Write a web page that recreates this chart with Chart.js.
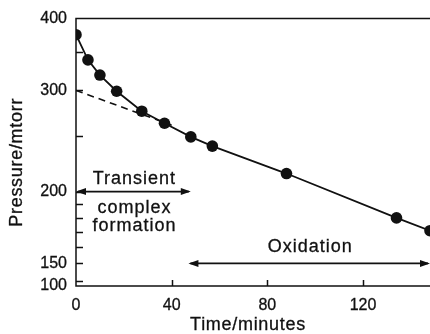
<!DOCTYPE html>
<html>
<head>
<meta charset="utf-8">
<script src="https://cdn.jsdelivr.net/npm/chart.js@4.4.1/dist/chart.umd.min.js"></script>
<style>
  html, body { margin: 0; padding: 0; background: #fff; }
  #wrap { width: 430px; height: 334px; position: relative; }
</style>
</head>
<body>
<div id="wrap"><canvas id="pressure"></canvas></div>
<script>
// measured pressure vs time
const times = [0, 5, 10, 17, 27.5, 37, 48, 57, 88, 134, 148];
const pressures = [375, 339, 319, 299, 276, 263, 249, 240, 215, 180, 171];

// straight-line part extrapolated back to t = 0
const extrapTimes = [0, 40];
const extrapPressures = [300, 261];

const xTicks = [0, 40, 80, 120];
const yTicks = [137, 140, 150, 160, 170, 180, 190, 200, 250, 300, 350, 400];
const yLabels = { 137: "100", 150: "150", 200: "200", 300: "300", 400: "400" };

// phase arrows: [start, end] in minutes, drawn at a pressure level
const transientSpan = [0, 48];
const transientLevel = 200;
const oxidationSpan = [47, 148];
const oxidationLevel = 150;

const INK = "#111";
const FONT = "'Liberation Sans', Arial, Helvetica, sans-serif";

Chart.defaults.font.family = FONT;
Chart.defaults.font.size = 16;
Chart.defaults.color = INK;

function arrow(ctx, x1, x2, y) {
  const head = 10, half = 3.5;
  ctx.beginPath();
  ctx.moveTo(x1 + 2, y);
  ctx.lineTo(x2 - 2, y);
  ctx.stroke();
  ctx.beginPath();
  ctx.moveTo(x1, y);
  ctx.lineTo(x1 + head, y - half);
  ctx.lineTo(x1 + head, y + half);
  ctx.closePath();
  ctx.moveTo(x2, y);
  ctx.lineTo(x2 - head, y - half);
  ctx.lineTo(x2 - head, y + half);
  ctx.closePath();
  ctx.fill();
}

function label(ctx, text, x, y) {
  ctx.fillText(text, x, y);
  ctx.strokeText(text, x, y);
}

const frameAndNotes = {
  id: "frameAndNotes",
  beforeDatasetsDraw(chart) {
    const { ctx, chartArea: a, scales: { x, y } } = chart;
    ctx.save();
    ctx.strokeStyle = INK;
    ctx.fillStyle = INK;
    ctx.lineWidth = 1.5;

    // left, bottom and top edges; the right side runs off the page
    ctx.beginPath();
    ctx.moveTo(a.right, a.top);
    ctx.lineTo(a.left, a.top);
    ctx.lineTo(a.left, a.bottom);
    ctx.lineTo(a.right, a.bottom);
    ctx.stroke();

    // tick marks point into the plot
    ctx.beginPath();
    y.ticks.forEach((t) => {
      if (t.value === y.min || t.value === y.max) return;
      const py = Math.round(y.getPixelForValue(t.value)) + 0.5;
      ctx.moveTo(a.left, py);
      ctx.lineTo(a.left + 7, py);
    });
    x.ticks.forEach((t) => {
      if (t.value === x.min) return;
      const px = Math.round(x.getPixelForValue(t.value)) + 0.5;
      ctx.moveTo(px, a.bottom);
      ctx.lineTo(px, a.bottom - 6);
    });
    ctx.stroke();

    // phase arrows and their labels
    ctx.lineWidth = 1.6;
    const ty = y.getPixelForValue(transientLevel);
    const tx1 = x.getPixelForValue(transientSpan[0]);
    const tx2 = x.getPixelForValue(transientSpan[1]);
    arrow(ctx, tx1, tx2, ty);
    const oy = y.getPixelForValue(oxidationLevel);
    const ox1 = x.getPixelForValue(oxidationSpan[0]);
    const ox2 = x.getPixelForValue(oxidationSpan[1]);
    arrow(ctx, ox1, ox2, oy);

    ctx.font = "18px " + FONT;
    ctx.letterSpacing = "1px";
    ctx.textAlign = "center";
    ctx.textBaseline = "middle";
    ctx.lineWidth = 0.3;
    const tcx = (tx1 + tx2) / 2 + 1;
    label(ctx, "Transient", tcx, ty - 13);
    label(ctx, "complex", tcx, ty + 16);
    label(ctx, "formation", tcx, ty + 34);
    label(ctx, "Oxidation", (ox1 + ox2) / 2 + 1, oy - 16);

    // axis titles
    ctx.letterSpacing = "0.7px";
    label(ctx, "Time/minutes", (a.left + a.right) / 2 - 5, a.bottom + 39);
    ctx.translate(17, (a.top + a.bottom) / 2 + 10);
    ctx.rotate(-Math.PI / 2);
    label(ctx, "Pressure/mtorr", 0, 0);
    ctx.restore();
  }
};

new Chart(document.getElementById("pressure"), {
  type: "scatter",
  data: {
    datasets: [
      {
        label: "Pressure",
        data: times.map((t, i) => ({ x: t, y: pressures[i] })),
        showLine: true,
        borderColor: INK,
        borderWidth: 1.8,
        backgroundColor: INK,
        pointRadius: 5.8,
        pointBorderWidth: 0,
        tension: 0
      },
      {
        label: "Extrapolation",
        data: extrapTimes.map((t, i) => ({ x: t, y: extrapPressures[i] })),
        showLine: true,
        borderColor: INK,
        borderWidth: 1.6,
        borderDash: [7, 5],
        pointRadius: 0
      }
    ]
  },
  options: {
    responsive: true,
    maintainAspectRatio: false,
    animation: false,
    events: [],
    layout: { autoPadding: false, padding: { top: 16, right: 0, left: 0, bottom: 0 } },
    plugins: { legend: { display: false }, tooltip: { enabled: false } },
    scales: {
      x: {
        type: "linear",
        min: 0,
        max: 148,
        grid: { display: false, drawTicks: false },
        border: { display: false },
        ticks: { padding: 10, maxRotation: 0, textStrokeColor: INK, textStrokeWidth: 0.3 },
        afterBuildTicks: (s) => { s.ticks = xTicks.map((v) => ({ value: v })); },
        afterFit: (s) => { s.height = 48; }
      },
      y: {
        type: "logarithmic",
        min: 137,
        max: 400,
        grid: { display: false, drawTicks: false },
        border: { display: false },
        ticks: {
          padding: 9,
          autoSkip: false,
          textStrokeColor: INK,
          textStrokeWidth: 0.3,
          callback: (v) => yLabels[v] || ""
        },
        afterBuildTicks: (s) => { s.ticks = yTicks.map((v) => ({ value: v })); },
        afterFit: (s) => { s.width = 76; }
      }
    }
  },
  plugins: [frameAndNotes]
});
</script>
</body>
</html>
